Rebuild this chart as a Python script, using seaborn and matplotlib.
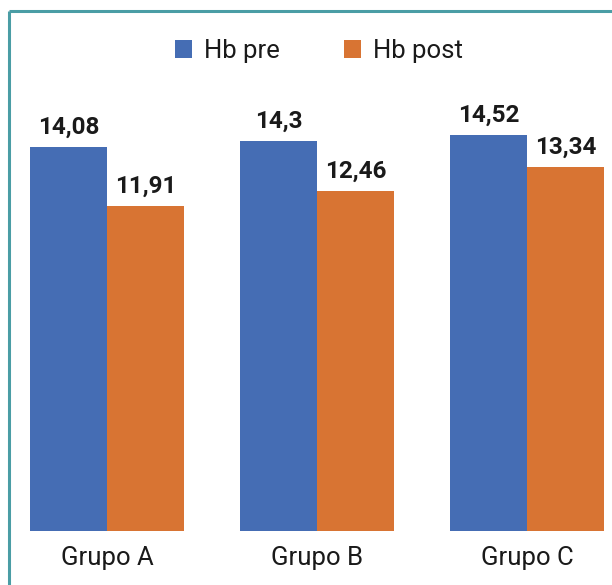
import matplotlib
matplotlib.use("Agg")
import matplotlib.pyplot as plt
import seaborn as sns
import pandas as pd
from matplotlib.lines import Line2D
from matplotlib.patches import Patch

groups = ["Grupo A", "Grupo B", "Grupo C"]
series = ["Hb pre", "Hb post"]
hb_pre = [14.08, 14.3, 14.52]
hb_post = [11.91, 12.46, 13.34]
labels_pre = ["14,08", "14,3", "14,52"]
labels_post = ["11,91", "12,46", "13,34"]
colors = ["#456DB4", "#D87433"]

df = pd.DataFrame({
    "grupo": groups * 2,
    "serie": [series[0]] * 3 + [series[1]] * 3,
    "valor": hb_pre + hb_post,
})

sns.set_theme(style="white")
plt.rcParams["font.family"] = ["Roboto", "DejaVu Sans"]

W, H = 612, 585
fig = plt.figure(figsize=(W / 100, H / 100), dpi=100)
base_y = 531
top_y = 100
ax = fig.add_axes([0, (H - base_y) / H, 1, (base_y - top_y) / H])

sns.barplot(data=df, x="grupo", y="valor", hue="serie", palette=colors,
            width=0.73, saturation=1, ax=ax, legend=False, errorbar=None,
            linewidth=0, edgecolor="none")

px_per_unit = 384 / 14.08
ax.set_ylim(0, (base_y - top_y) / px_per_unit)
ax.set_xlim(-107 / 210, (612 - 107) / 210)

for container, labs in zip(ax.containers, [labels_pre, labels_post]):
    ax.bar_label(container, labels=labs, padding=6, fontsize=17.5,
                 fontweight="bold", color="#1a1a1a")

ax.set_xlabel("")
ax.set_ylabel("")
ax.set_yticks([])
ax.tick_params(axis="x", length=0, labelsize=18.5, colors="#1a1a1a", pad=11)
for s in ax.spines.values():
    s.set_visible(False)

handles = [Patch(facecolor=c, edgecolor="none") for c in colors]
fig.legend(handles, series, loc="center", bbox_to_anchor=(319 / W, 1 - 51 / H),
           ncol=2, frameon=False, fontsize=18.5, handlelength=0.66, handleheight=0.66,
           columnspacing=2.5, handletextpad=0.45, labelcolor="#1a1a1a",
           borderpad=0, borderaxespad=0)

border = "#4A9DA5"
fig.add_artist(Line2D([8.5 / W, 1], [1 - 10.5 / H, 1 - 10.5 / H], color=border,
                      lw=2.2, transform=fig.transFigure, solid_capstyle="butt"))
fig.add_artist(Line2D([8.5 / W, 8.5 / W], [0, 1 - 10.5 / H], color=border,
                      lw=2.2, transform=fig.transFigure, solid_capstyle="butt"))

fig.savefig("out.png", dpi=100)
